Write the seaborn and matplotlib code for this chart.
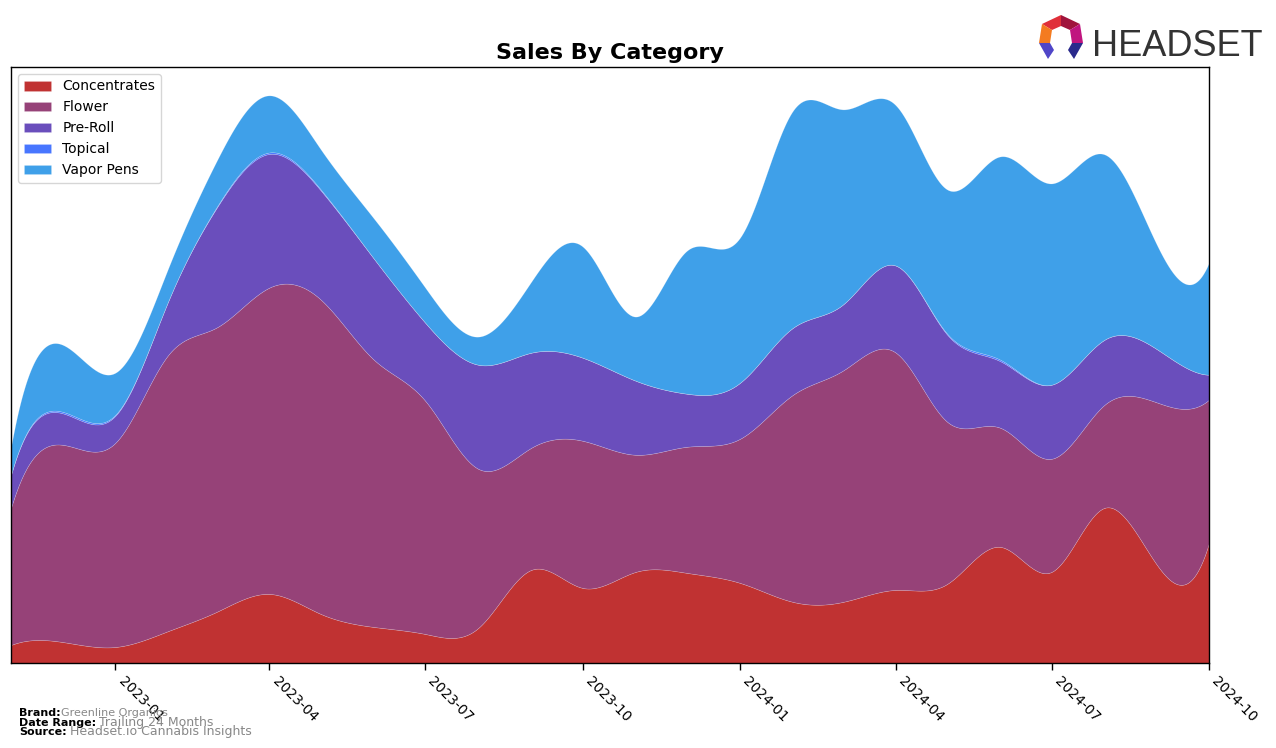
import numpy as np
import pandas as pd
import matplotlib
matplotlib.use("Agg")
import matplotlib.pyplot as plt
import matplotlib.dates as mdates
from matplotlib.patches import Polygon
import seaborn as sns

# ---------------- data (monthly, relative sales units) ----------------
months = ["2022-11", "2022-12", "2023-01", "2023-02", "2023-03", "2023-04",
          "2023-05", "2023-06", "2023-07", "2023-08", "2023-09", "2023-10",
          "2023-11", "2023-12", "2024-01", "2024-02", "2024-03", "2024-04",
          "2024-05", "2024-06", "2024-07", "2024-08", "2024-09", "2024-10"]
categories = ["Concentrates", "Flower", "Pre-Roll", "Topical", "Vapor Pens"]
concentrates = [18, 21, 16, 32, 51, 69, 49, 36, 29, 35, 93, 75,
                91, 90, 80, 61, 61, 73, 79, 116, 91, 155, 97, 120]
flower = [137, 197, 204, 276, 284, 306, 314, 267, 233, 159, 122, 147,
          117, 126, 144, 207, 231, 237, 162, 119, 113, 103, 163, 143]
preroll = [33, 31.5, 27, 54, 119.2, 133.5, 109, 101, 78, 104, 95, 83,
           74, 53, 56, 67, 66, 87, 87, 66.5, 74, 65, 53, 25]
topical = [0, 1.5, 1.0, 0, 0.8, 1.5, 1.0, 0, 0, 0, 0, 0,
           0, 0, 0, 0, 0, 0, 1.0, 1.5, 0, 0, 0, 0]
vapor = [28, 67, 42, 33, 46, 57, 40, 40, 35, 28, 71, 111,
         64, 143, 145, 217, 195, 160, 144, 203, 201, 185, 103, 112]
colors = ["#C03232", "#964278", "#6A4EBC", "#4876FF", "#3FA0E9"]
tick_labels = ["2023-01", "2023-04", "2023-07", "2023-10",
               "2024-01", "2024-04", "2024-07", "2024-10"]

df = pd.DataFrame({"month": pd.to_datetime(months),
                   "Concentrates": concentrates, "Flower": flower,
                   "Pre-Roll": preroll, "Topical": topical,
                   "Vapor Pens": vapor})


def smooth(x, y, xs):
    """Cubic spline (not-a-knot) through the monthly points for drawing."""
    x = np.asarray(x, float)
    y = np.asarray(y, float)
    n = len(x)
    h = np.diff(x)
    A = np.zeros((n, n))
    b = np.zeros(n)
    A[0, 0], A[0, 1], A[0, 2] = h[1], -(h[0] + h[1]), h[0]
    for i in range(1, n - 1):
        A[i, i - 1] = h[i - 1]
        A[i, i] = 2 * (h[i - 1] + h[i])
        A[i, i + 1] = h[i]
        b[i] = 6 * ((y[i + 1] - y[i]) / h[i] - (y[i] - y[i - 1]) / h[i - 1])
    A[-1, -3], A[-1, -2], A[-1, -1] = h[-1], -(h[-2] + h[-1]), h[-2]
    M = np.linalg.solve(A, b)
    idx = np.clip(np.searchsorted(x, xs) - 1, 0, n - 2)
    x0, x1 = x[idx], x[idx + 1]
    hh = x1 - x0
    s = (M[idx] * (x1 - xs) ** 3 / (6 * hh) + M[idx + 1] * (xs - x0) ** 3 / (6 * hh)
         + (y[idx] / hh - M[idx] * hh / 6) * (x1 - xs)
         + (y[idx + 1] / hh - M[idx + 1] * hh / 6) * (xs - x0))
    return s


# ---------------- style ----------------
sns.set_style("ticks")
plt.rcParams["font.family"] = ["DejaVu Sans"]
plt.rcParams["text.color"] = "black"
plt.rcParams["xtick.color"] = "black"
plt.rcParams["axes.titlecolor"] = "black"
plt.rcParams["legend.labelcolor"] = "black"

fig = plt.figure(figsize=(12.76, 7.48), dpi=100)
ax = fig.add_axes([11 / 1276, 1 - 663 / 748, (1209 - 11) / 1276, (663 - 67) / 748])

xnum = mdates.date2num(df["month"])
xs = np.linspace(xnum[0], xnum[-1], 800)
ys = [np.clip(smooth(xnum, df[c].values, xs), 0, None) for c in categories]
palette = sns.color_palette(colors)
ax.stackplot(mdates.num2date(xs), *ys, labels=categories, colors=palette,
             linewidth=0.4, edgecolor=(1, 1, 1, 0.25))

total = np.sum(ys, axis=0)
ax.set_xlim(mdates.num2date(xnum[0]), mdates.num2date(xnum[-1]))
ax.set_ylim(0, total.max() * 1.05)

ticks = pd.to_datetime(tick_labels)
ax.set_xticks(ticks)
ax.set_xticklabels(tick_labels, rotation=-45, ha="left", fontsize=10,
                   color="black")
ax.tick_params(axis="x", bottom=True, length=5, width=1, color="black", pad=3)
ax.set_yticks([])
for sp in ax.spines.values():
    sp.set_visible(True)
    sp.set_color("black")
    sp.set_linewidth(1.0)

ax.set_title("Sales By Category", fontsize=16, fontweight="bold", pad=6,
             color="black")
leg = ax.legend(loc="upper left", fontsize=10, frameon=True, fancybox=True,
                handlelength=2, borderpad=0.4, labelspacing=0.5)
leg.get_frame().set_edgecolor("#cccccc")

# ---------------- footer ----------------
def fy(py):
    return 1 - py / 748

fig.text(19 / 1276, fy(716), "Brand:", fontsize=8, fontweight="bold", color="black")
fig.text(61 / 1276, fy(716), "Greenline Organics", fontsize=8, color="#888888")
fig.text(19 / 1276, fy(726), "Date Range:", fontsize=8, fontweight="bold", color="black")
fig.text(99 / 1276, fy(726), "Trailing 24 Months", fontsize=9, color="#888888")
fig.text(19 / 1276, fy(735), "Source:", fontsize=8, fontweight="bold", color="black")
fig.text(70 / 1276, fy(735), "Headset.io Cannabis Insights", fontsize=9, color="#888888")

# ---------------- logo ----------------
def poly(pts, color):
    p = Polygon([(px / 1276, fy(py)) for px, py in pts], closed=True,
                transform=fig.transFigure, facecolor=color, edgecolor="none")
    fig.patches.append(p)

poly([(1061, 15), (1042, 24), (1052, 30), (1061, 26)], "#E0303A")
poly([(1061, 15), (1080, 24), (1070, 30), (1061, 26)], "#A0143C")
poly([(1042, 24), (1039, 43), (1050, 43), (1052, 30)], "#F47B20")
poly([(1080, 24), (1083, 43), (1072, 43), (1070, 30)], "#C0157F")
poly([(1039, 43), (1050, 43), (1054, 50), (1048, 59)], "#5046C8")
poly([(1083, 43), (1072, 43), (1068, 50), (1074, 59)], "#2A2A8C")
fig.text(1092 / 1276, fy(56), "HEADSET", fontsize=26, color="#333333",
         family=["Liberation Sans", "DejaVu Sans"], va="baseline", ha="left")

fig.savefig("out.png", dpi=100)
